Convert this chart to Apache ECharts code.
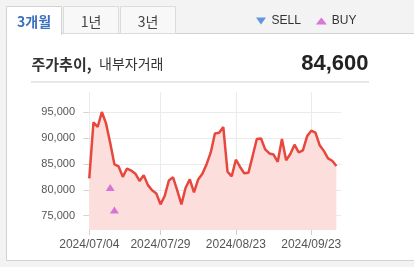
<!DOCTYPE html>
<html><head><meta charset="utf-8">
<script src="https://cdn.jsdelivr.net/npm/echarts@6/dist/echarts.min.js"></script>
<style>html,body{margin:0;padding:0;background:#f3f3f3;}#c{width:414px;height:267px;}</style>
</head><body><div id="c"></div>
<script>
const dates = ['2024/07/04','2024/07/05','2024/07/08','2024/07/09','2024/07/10','2024/07/11','2024/07/12','2024/07/15','2024/07/16','2024/07/17','2024/07/18','2024/07/19','2024/07/22','2024/07/23','2024/07/24','2024/07/25','2024/07/26','2024/07/29','2024/07/30','2024/07/31',
'2024/08/01','2024/08/02','2024/08/05','2024/08/06','2024/08/07','2024/08/08','2024/08/09','2024/08/12','2024/08/13','2024/08/14','2024/08/16','2024/08/19','2024/08/20','2024/08/21','2024/08/22','2024/08/23','2024/08/26','2024/08/27','2024/08/28','2024/08/29','2024/08/30',
'2024/09/02','2024/09/03','2024/09/04','2024/09/05','2024/09/06','2024/09/09','2024/09/10','2024/09/11','2024/09/12','2024/09/13','2024/09/19','2024/09/20','2024/09/23','2024/09/24','2024/09/25','2024/09/26','2024/09/27','2024/09/30','2024/10/02'];
const prices = [82200,93000,92100,95000,92800,89000,84900,84500,82500,84100,83700,83100,81700,82800,80900,79900,79300,77200,78800,81800,
82400,79900,77200,80400,82000,79500,82000,83100,84900,87200,90850,91000,92100,83500,82600,85800,84400,83200,83300,86500,
89800,89900,87800,87000,86800,85400,89800,85700,86900,88700,87200,87600,90300,91400,91000,88600,87500,86050,85600,84600];
const buyDates = ['2024/07/11','2024/07/12'];
const buyPrices = [80450, 76100];
const sellDates = [];
const sellPrices = [];
const xTickLabels = ['2024/07/04','2024/07/29','2024/08/23','2024/09/23'];
const yTicks = [75000,80000,85000,90000,95000];
const tabs = ['3개월','1년','3년'];
const titleBold = '주가추이,';
const titleNormal = '내부자거래';
const currentPrice = '84,600';

const xTickIdx = xTickLabels.map(d => dates.indexOf(d));
const lineData = prices.map((v,i) => [i, v]);
const buyData = buyDates.map((d,i) => [dates.indexOf(d), buyPrices[i]]);
const sellData = sellDates.map((d,i) => [dates.indexOf(d), sellPrices[i]]);
const fmt = v => v.toLocaleString('en-US');
const FONT = '"Liberation Sans", Arial, sans-serif';
const KFONT = '"Noto Sans CJK KR", "Noto Sans", sans-serif';

const chart = echarts.init(document.getElementById('c'), null, {renderer:'canvas'});
chart.setOption({
  animation:false,
  backgroundColor:'#f3f3f3',
  graphic:[
    {type:'rect', z:0, shape:{x:6.5,y:33.5,width:420,height:227}, style:{fill:'#fff',stroke:'#d2d2d2',lineWidth:1}},
    {type:'rect', z:1, shape:{x:63.5,y:6.5,width:55,height:27}, style:{fill:'#f8f8f8',stroke:'#dcdcdc',lineWidth:1}},
    {type:'rect', z:1, shape:{x:120.5,y:6.5,width:55,height:27}, style:{fill:'#f8f8f8',stroke:'#dcdcdc',lineWidth:1}},
    {type:'rect', z:2, shape:{x:6.5,y:6.5,width:55,height:28}, style:{fill:'#fff',stroke:'#d2d2d2',lineWidth:1}},
    {type:'rect', z:3, shape:{x:7,y:30,width:54,height:6}, style:{fill:'#fff'}},
    {type:'text', z:4, x:34, y:21.5, style:{text:tabs[0], fill:'#3a70bd', font:'bold 14px '+KFONT, align:'center', verticalAlign:'middle'}},
    {type:'text', z:4, x:91, y:21.5, style:{text:tabs[1], fill:'#444', font:'14px '+KFONT, align:'center', verticalAlign:'middle'}},
    {type:'text', z:4, x:148, y:21.5, style:{text:tabs[2], fill:'#444', font:'14px '+KFONT, align:'center', verticalAlign:'middle'}},
    {type:'text', z:4, x:31.5, y:64, style:{text:titleBold, fill:'#333', font:'bold 15px '+KFONT, verticalAlign:'middle'}},
    {type:'text', z:4, x:99, y:64, style:{text:titleNormal, fill:'#333', font:'14px '+KFONT, verticalAlign:'middle'}},
    {type:'text', z:4, x:368.5, y:64, style:{text:currentPrice, fill:'#222', font:'bold 22px '+FONT, align:'right', verticalAlign:'middle'}},
    {type:'rect', z:4, shape:{x:31,y:81,width:338,height:2}, style:{fill:'#e8e8e8'}}
  ],
  legend:{
    left:256, top:15, padding:0, itemWidth:11, itemHeight:7, itemGap:15,
    textStyle:{fontSize:12, color:'#333', fontFamily:FONT},
    data:[{name:'SELL', icon:'path://M0,0L10,0L5,7Z'}, {name:'BUY', icon:'triangle'}],
    selectedMode:false
  },
  grid:{left:84, right:73, top:92, bottom:37, show:true, borderColor:'#c9c9c9', borderWidth:1, backgroundColor:'#fff'},
  xAxis:{
    type:'value', min:-1.26, max:60.1,
    axisLine:{show:false},
    axisTick:{show:true, length:5, lineStyle:{color:'#cfcfcf'}, customValues:xTickIdx},
    axisLabel:{customValues:xTickIdx, formatter:v => dates[Math.round(v)], color:'#555', fontSize:12, fontFamily:FONT, margin:9},
    splitLine:{show:true, lineStyle:{color:'#ebebeb'}}
  },
  yAxis:{
    type:'value', min:72250, max:98850,
    axisLine:{show:false},
    axisTick:{show:true, length:6, lineStyle:{color:'#d5d5d5'}, customValues:yTicks},
    axisLabel:{customValues:yTicks, formatter:v => fmt(v), color:'#555', fontSize:11, fontFamily:FONT, margin:9},
    splitLine:{show:true, lineStyle:{color:'#ebebeb'}}
  },
  series:[
    {name:'price', type:'line', data:lineData, symbol:'none', lineStyle:{color:'#e8473d', width:2.5}, itemStyle:{color:'#e8473d'},
     areaStyle:{color:'#fcdfdc', opacity:1, origin:'start'}, z:2},
    {name:'SELL', type:'scatter', data:sellData, symbol:'path://M0,0L10,0L5,7Z', symbolSize:[9,7], itemStyle:{color:'#3b7ddd'}, z:3},
    {name:'BUY', type:'scatter', data:buyData, symbol:'triangle', symbolSize:[9,7], itemStyle:{color:'#d058d4'}, z:3}
  ]
});
</script></body></html>
